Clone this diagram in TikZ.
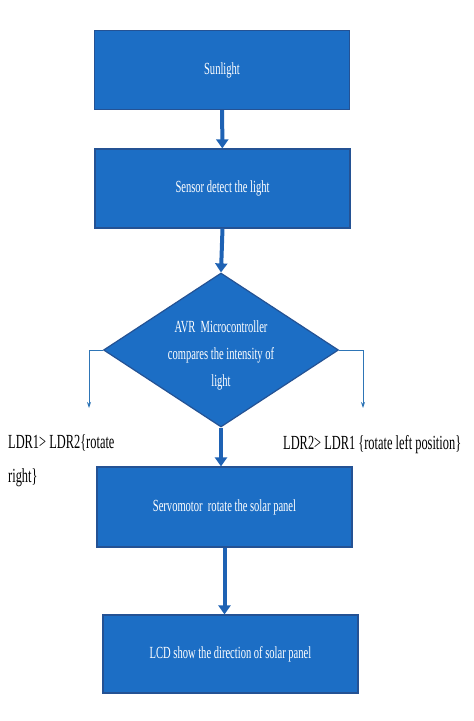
\documentclass[tikz,border=0pt]{standalone}
\usepackage{fontspec}
\setmainfont[FakeStretch=0.62]{Liberation Serif}
\usetikzlibrary{shapes,arrows.meta}

\begin{document}
\begin{tikzpicture} [x=1pt,y=-1pt]
    % colours and styles %
    \definecolor{boxblue}{RGB}{28,110,197}
    \definecolor{boxedge}{RGB}{36,82,148}
    \definecolor{flowblue}{RGB}{30,98,180}
    \definecolor{sideblue}{RGB}{46,117,182}
    \tikzset{
      stepbox/.style={draw=boxedge, fill=boxblue, line width=1.2pt,
        minimum width=255pt, minimum height=79pt, text=white,
        font=\fontsize{17}{20}\selectfont},
      flow/.style={flowblue, line width=4pt, -{Triangle[width=12pt,length=9pt]}},
      side/.style={sideblue, line width=0.9pt, -{Stealth[width=4pt,length=6pt]}},
      label/.style={inner sep=0pt, font=\fontsize{20}{34}\selectfont}
    }
    \useasboundingbox (0,0) rectangle (474,721);

    % boxes %
    \node[stepbox] (sun) at (222,70) {Sunlight};
    \node[stepbox] (sensor) at (222.5,188.5) {Sensor detect the light};
    \node[diamond, draw=boxedge, fill=boxblue, line width=1.2pt,
      minimum width=235pt, minimum height=154pt, inner sep=0pt] (avr) at (221,350) {};
    \node[align=center, text=white, font=\fontsize{17}{27}\selectfont] (avrtext) at (221,355)
      {AVR~~Microcontroller\\compares the intensity of\\light};
    \node[stepbox, minimum height=80pt] (servo) at (224.5,507) {Servomotor~~rotate the solar panel};
    \node[stepbox, minimum height=78pt] (lcd) at (230.5,654) {LCD show the direction of solar panel};

    % flow arrows %
    \draw[flow] (sun) -- (sensor);
    \draw[flow] (sensor.south) -- (avr.north);
    \draw[flow] (avr.south) -- (avr.south |- servo.north);
    \draw[flow] (servo.south) -- (servo.south |- lcd.north);

    % side branches %
    \coordinate (lend) at (89,408);
    \coordinate (rend) at (363,408);
    \draw[side] (avr.west) -| (lend);
    \draw[side] (avr.east) -| (rend);
    \node[label, align=left, anchor=north west] (ltext) at (8,434) {LDR1> LDR2\{rotate\\right\}};
    \node[label, anchor=base west] (rtext) at (283,449) {LDR2> LDR1 \{rotate left position\}};
  \end{tikzpicture}
\end{document}
